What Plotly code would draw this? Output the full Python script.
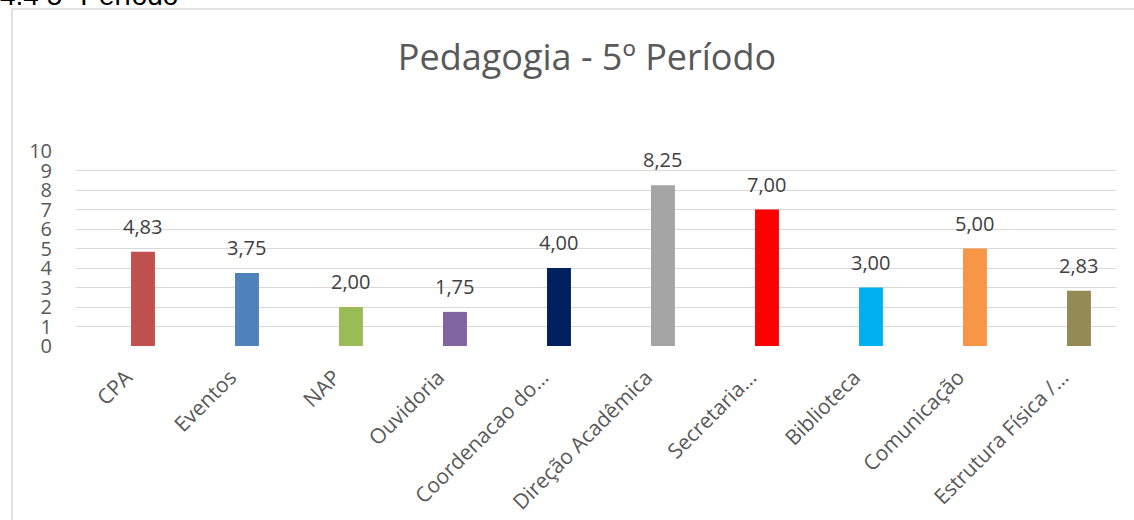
import plotly.graph_objects as go

categories = ["CPA", "Eventos", "NAP", "Ouvidoria", "Coordenacao do…",
              "Direção Acadêmica", "Secretaria…", "Biblioteca", "Comunicação",
              "Estrutura Física /…"]
values = [4.83, 3.75, 2.00, 1.75, 4.00, 8.25, 7.00, 3.00, 5.00, 2.83]
colors = ["#C0504D", "#4F81BD", "#9BBB59", "#8064A2", "#002060",
          "#A5A5A5", "#FF0000", "#00B0F0", "#F79646", "#948A54"]
y_ticks = list(range(0, 11))

FONT = "Open Sans"
W, H = 1134, 520
L, R, T, B = 76, 18, 151, 174
pw, ph = W - L - R, H - T - B

def px_x(x):
    return (x - L) / pw

def px_y(y):
    return 1 + (T - y) / ph

xs = list(range(len(categories)))
XR = [-0.644, 9.356]
LABEL_SHIFT = 0.16  # category labels sit a little left of the bar centre

fig = go.Figure(go.Bar(
    x=xs, y=values,
    marker=dict(color=colors, line=dict(width=0)),
    width=0.23,
))

# data labels above bars
for xi, v in zip(xs, values):
    fig.add_annotation(x=xi, y=v, xref="x", yref="y",
                       text=f"{v:.2f}".replace(".", ","),
                       showarrow=False, xanchor="center", yanchor="bottom",
                       yshift=10,
                       font=dict(family=FONT, size=20, color="#404040"))

fig.update_layout(
    width=W, height=H,
    margin=dict(l=L, r=R, t=T, b=B, autoexpand=False),
    paper_bgcolor="white", plot_bgcolor="white",
    showlegend=False,
    title=dict(text="Pedagogia - 5º Período", x=px_x(587), xref="paper",
               xanchor="center", y=1 - 57 / H, yref="container", yanchor="middle",
               font=dict(family=FONT, size=36, color="#595959")),
    xaxis=dict(tickmode="array", tickvals=xs, showticklabels=False,
               automargin=False, range=XR, showgrid=False, zeroline=False,
               showline=False, ticks=""),
    xaxis2=dict(overlaying="x", side="bottom", tickmode="array", tickvals=xs,
                ticktext=categories, tickangle=-45, automargin=False,
                range=[XR[0] + LABEL_SHIFT, XR[1] + LABEL_SHIFT],
                showgrid=False, zeroline=False, showline=False, ticks="",
                ticklabelstandoff=14,
                tickfont=dict(family=FONT, size=21, color="#595959")),
    yaxis=dict(range=[0, 10], tickvals=y_ticks, showgrid=True, automargin=False,
               gridcolor="#D9D9D9", gridwidth=1.3, zeroline=False,
               showline=False, ticks="", ticklabelstandoff=23,
               tickfont=dict(family=FONT, size=20, color="#595959")),
    font=dict(family=FONT),
)

# invisible trace to activate the label axis
fig.add_trace(go.Scatter(x=xs, y=values, xaxis="x2", mode="markers",
                         marker=dict(opacity=0), hoverinfo="skip",
                         showlegend=False))

# outer chart border
fig.add_shape(type="rect", xref="paper", yref="paper",
              x0=px_x(12), x1=px_x(1145), y0=px_y(530), y1=px_y(9),
              line=dict(color="#D9D9D9", width=1.5), layer="below")

# heading text cut off at top of the page
fig.add_annotation(text="4.4 5º Período", xref="paper", yref="paper",
                   x=px_x(-2), y=px_y(13), xanchor="left", yanchor="bottom",
                   showarrow=False,
                   font=dict(family="Liberation Sans", size=28, color="#000000"))

fig.write_html("out.html", config={"displayModeBar": False},
               post_script="document.body.style.margin='0';")
